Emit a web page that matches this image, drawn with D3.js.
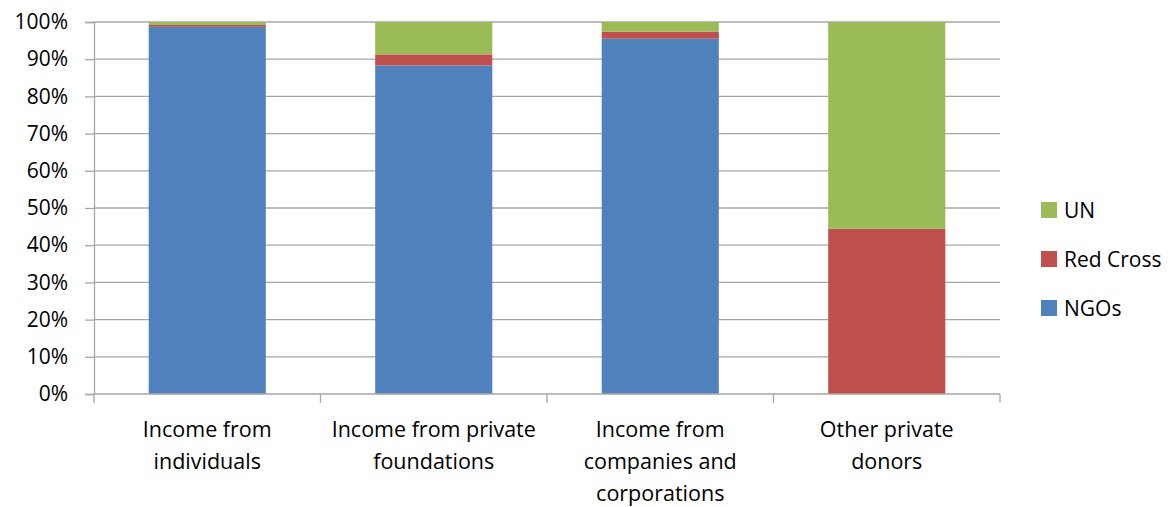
<!DOCTYPE html>
<html>
<head>
<meta charset="utf-8">
<script src="https://cdn.jsdelivr.net/npm/d3@7"></script>
<style>
  html, body { margin: 0; padding: 0; background: #fff; overflow: hidden; }
  svg { display: block; }
  svg text { font-family: "Open Sans", Lato, sans-serif; fill: #000; }
</style>
</head>
<body>
<svg id="chart"></svg>
<script>
const width = 1176, height = 507

const categories = [
  ['Income from', 'individuals'],
  ['Income from private', 'foundations'],
  ['Income from', 'companies and', 'corporations'],
  ['Other private', 'donors']
]
const seriesNames = ['NGOs', 'Red Cross', 'UN']
const ngos = [98.7, 88.3, 95.5, 0]
const redCross = [0.5, 3.0, 1.9, 44.4]
const un = [0.8, 8.7, 2.6, 55.6]
const yTicks = [0, 10, 20, 30, 40, 50, 60, 70, 80, 90, 100]
const colors = ['#4f81bd', '#c0504d', '#9bbb59']

const svg = d3.select('svg#chart')
  .attr('viewBox', [0, 0, width, height])
  .attr('width', width)
  .attr('height', height)

const margin = { top: 22, right: 176, bottom: 113, left: 94 }
const innerWidth = width - margin.left - margin.right
const innerHeight = height - margin.top - margin.bottom

const data = categories.map((c, i) => ({
  key: i, NGOs: ngos[i], 'Red Cross': redCross[i], UN: un[i]
}))
const stacked = d3.stack().keys(seriesNames)(data)

const xScale = d3.scaleBand()
  .domain(data.map(d => d.key))
  .range([0, innerWidth])
  .paddingInner(0.483)
  .paddingOuter(0.2415)

const yScale = d3.scaleLinear()
  .domain([0, 100])
  .range([innerHeight, 0])

const g = svg.append('g')
  .attr('transform', `translate(${margin.left}, ${margin.top})`)

// gridlines
g.append('g').selectAll('line').data(yTicks.slice(1))
  .enter().append('line')
    .attr('x1', 0).attr('x2', innerWidth)
    .attr('y1', d => yScale(d)).attr('y2', d => yScale(d))
    .attr('stroke', '#a6a6a6').attr('stroke-width', 1.3)

// bars
g.append('g').selectAll('g').data(stacked)
  .enter().append('g')
    .attr('fill', (d, i) => colors[i])
  .selectAll('rect').data(d => d)
  .enter().append('rect')
    .attr('x', d => xScale(d.data.key))
    .attr('y', d => yScale(d[1]))
    .attr('width', xScale.bandwidth())
    .attr('height', d => yScale(d[0]) - yScale(d[1]))

// y axis
const yAxis = g.append('g')
  .call(d3.axisLeft(yScale).tickValues(yTicks).tickFormat(d => d + '%').tickSize(9).tickPadding(17))
yAxis.selectAll('text').style('font-size', '21px').style('font-family', '"Open Sans", sans-serif')
yAxis.selectAll('line, path').attr('stroke', '#a6a6a6').attr('stroke-width', 1.3)

// x axis
const step = xScale.step()
const xAxis = g.append('g').attr('transform', `translate(0, ${innerHeight})`)
xAxis.append('line')
  .attr('x1', 0).attr('x2', innerWidth)
  .attr('stroke', '#a6a6a6').attr('stroke-width', 1.3)
xAxis.selectAll('line.tick').data(d3.range(categories.length + 1))
  .enter().append('line').attr('class', 'tick')
    .attr('x1', i => i * step).attr('x2', i => i * step)
    .attr('y1', 0).attr('y2', 9)
    .attr('stroke', '#a6a6a6').attr('stroke-width', 1.3)

const labelLines = data.flatMap(d => categories[d.key].map((t, i) => ({ key: d.key, line: i, text: t })))
xAxis.selectAll('text.cat').data(labelLines)
  .enter().append('text').attr('class', 'cat')
    .attr('text-anchor', 'middle')
    .style('font-size', '21.5px')
    .attr('x', d => xScale(d.key) + xScale.bandwidth() / 2)
    .attr('y', d => 43 + d.line * 32)
    .text(d => d.text)

// legend
const legendItems = seriesNames.map((n, i) => ({ name: n, color: colors[i] })).reverse()
const legend = svg.append('g').attr('transform', 'translate(1041, 202)')
const item = legend.selectAll('g').data(legendItems)
  .enter().append('g')
    .attr('transform', (d, i) => `translate(0, ${i * 49})`)
item.append('rect')
  .attr('width', 16).attr('height', 16)
  .attr('fill', d => d.color)
item.append('text')
  .attr('x', 23).attr('y', 16)
  .style('font-size', '21px')
  .text(d => d.name)
</script>
</body>
</html>
